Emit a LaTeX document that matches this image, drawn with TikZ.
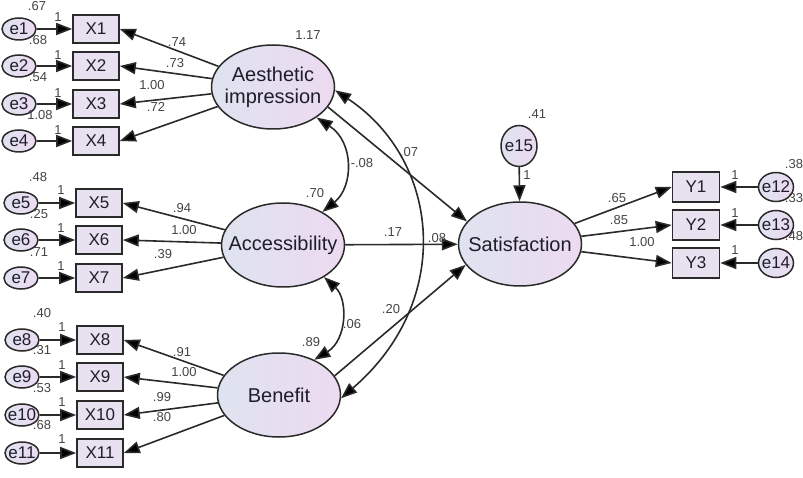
\documentclass[tikz,border=0pt]{standalone}
\usepackage{fontspec}
\setmainfont{Liberation Sans}
\usetikzlibrary{arrows.meta,shapes.geometric}
\definecolor{txt}{HTML}{1E1E2A}
\definecolor{numcol}{HTML}{444444}
\definecolor{edge}{HTML}{2A2A2A}
\definecolor{boxfill}{HTML}{E8E2F0}
\definecolor{shl}{HTML}{DEE3EF}
\definecolor{shr}{HTML}{EDDAF1}
\begin{document}
\begin{tikzpicture}[x=1pt,y=-1pt,
 latent/.style={ellipse,draw=edge,line width=1.5pt,left color=shl,right color=shr,minimum width=123pt,minimum height=84pt,inner xsep=-16pt,inner ysep=0pt,font=\fontsize{20}{22}\selectfont,text=txt,align=center},
 obs/.style={rectangle,draw=edge,line width=1.6pt,fill=boxfill,minimum width=46pt,minimum height=28pt,inner sep=0pt,font=\fontsize{17}{19}\selectfont,text=txt},
 err/.style={ellipse,draw=edge,line width=1.5pt,left color=shl,right color=shr,minimum width=34pt,minimum height=22pt,inner xsep=-3pt,inner ysep=-3pt,font=\fontsize{17}{19}\selectfont,text=txt},
 reg/.style={draw=edge,line width=1.6pt,-{Triangle[length=16pt,width=12pt,fill=black]}},
 cov/.style={draw=edge,line width=1.6pt,{Triangle[length=16pt,width=12pt,fill=black]}-{Triangle[length=16pt,width=12pt,fill=black]}},
 num/.style={font=\fontsize{13}{15}\selectfont,text=numcol,inner sep=0pt}
]
\useasboundingbox (0,0) rectangle (803,478);
% latent variables
\node[latent] (aes) at (273,87) {Aesthetic\\impression};
\node[latent] (acc) at (283,245) {Accessibility};
\node[latent] (ben) at (279,395) {Benefit};
\node[latent] (sat) at (520,244) {Satisfaction};
% indicators left
\node[obs] (X1) at (96,29) {X1};
\node[obs] (X2) at (96,66) {X2};
\node[obs] (X3) at (96,104) {X3};
\node[obs] (X4) at (96,141) {X4};
\node[obs] (X5) at (99,203) {X5};
\node[obs] (X6) at (99,240) {X6};
\node[obs] (X7) at (99,278) {X7};
\node[obs] (X8) at (100,340) {X8};
\node[obs] (X9) at (100,377) {X9};
\node[obs] (X10) at (100,415) {X10};
\node[obs] (X11) at (100,453) {X11};
% errors left
\node[err] (e1) at (19,29) {e1};
\node[err] (e2) at (19,66) {e2};
\node[err] (e3) at (19,104) {e3};
\node[err] (e4) at (19,141) {e4};
\node[err] (e5) at (21,203) {e5};
\node[err] (e6) at (21,240) {e6};
\node[err] (e7) at (21,278) {e7};
\node[err] (e8) at (22,340) {e8};
\node[err] (e9) at (22,377) {e9};
\node[err] (e10) at (22,415) {e10};
\node[err] (e11) at (22,453) {e11};
% right side
\node[obs,minimum width=47pt,minimum height=30pt] (Y1) at (696,187) {Y1};
\node[obs,minimum width=47pt,minimum height=30pt] (Y2) at (696,225) {Y2};
\node[obs,minimum width=47pt,minimum height=30pt] (Y3) at (696,263) {Y3};
\node[err,minimum width=35pt,minimum height=29pt] (e12) at (776,187) {e12};
\node[err,minimum width=35pt,minimum height=29pt] (e13) at (776,225) {e13};
\node[err,minimum width=35pt,minimum height=29pt] (e14) at (776,263) {e14};
\node[err,minimum width=36pt,minimum height=41pt] (e15) at (519,146) {e15};
% error paths
\foreach \i in {1,...,11} \draw[reg] (e\i) -- (X\i);
\draw[reg] (e12) -- (Y1);
\draw[reg] (e13) -- (Y2);
\draw[reg] (e14) -- (Y3);
\draw[reg] (e15) -- (sat);
% loadings
\foreach \i in {1,...,4} \draw[reg] (aes) -- (X\i.east);
\foreach \i in {5,6,7} \draw[reg] (acc) -- (X\i.east);
\foreach \i in {8,...,11} \draw[reg] (ben) -- (X\i.east);
\foreach \i in {1,2,3} \draw[reg] (sat) -- (Y\i.west);
% structural paths
\draw[reg] (aes.-20) -- (sat.157);
\draw[reg] (acc) -- (sat);
\draw[reg] (ben.19) -- (sat.-159);
% covariances
\draw[cov] (aes.-35) .. controls +(38,25) and +(31,-25) .. (acc.40);
\draw[cov] (acc.-38) .. controls +(24,22) and +(33,-20) .. (ben.45);
\draw[cov] (aes.-3) .. controls (440,160) and (455,300) .. (ben.-3);
% labels: variances and weights
\node[num] (v1) at (37,6) {.67};
\node[num] (v2) at (38,40) {.68};
\node[num] (v3) at (38,77) {.54};
\node[num] (v4) at (40,115) {1.08};
\node[num] (f1) at (58,17) {1};
\node[num] (f2) at (58,55) {1};
\node[num] (f3) at (58,93) {1};
\node[num] (f4) at (58,130) {1};
\node[num] (w1) at (177,42) {.74};
\node[num] (w2) at (175,63) {.73};
\node[num] (w3) at (152,85) {1.00};
\node[num] (w4) at (156,107) {.72};
\node[num] (v5) at (38,177) {.48};
\node[num] (v6) at (39,214) {.25};
\node[num] (v7) at (39,252) {.71};
\node[num] (f5) at (61,190) {1};
\node[num] (f6) at (61,228) {1};
\node[num] (f7) at (61,266) {1};
\node[num] (w5) at (182,208) {.94};
\node[num] (w6) at (184,230) {1.00};
\node[num] (w7) at (163,254) {.39};
\node[num] (v8) at (42,313) {.40};
\node[num] (v9) at (42,350) {.31};
\node[num] (v10) at (42,388) {.53};
\node[num] (v11) at (42,425) {.68};
\node[num] (f8) at (62,327) {1};
\node[num] (f9) at (62,365) {1};
\node[num] (f10) at (62,402) {1};
\node[num] (f11) at (62,439) {1};
\node[num] (w8) at (182,352) {.91};
\node[num] (w9) at (184,372) {1.00};
\node[num] (w10) at (162,397) {.99};
\node[num] (w11) at (162,417) {.80};
\node[num] (vaes) at (308,35) {1.17};
\node[num] (c1) at (362,163) {-.08};
\node[num] (vacc) at (315,193) {.70};
\node[num] (c2) at (409,152) {.07};
\node[num] (b1) at (393,232) {.17};
\node[num] (r2) at (437,238) {.08};
\node[num] (b2) at (391,309) {.20};
\node[num] (c3) at (352,324) {.06};
\node[num] (vben) at (311,342) {.89};
\node[num] (v15) at (537,114) {.41};
\node[num] (f15) at (527,175) {1};
\node[num] (w12) at (617,198) {.65};
\node[num] (w13) at (619,220) {.85};
\node[num] (w14) at (642,242) {1.00};
\node[num] (f12) at (735,175) {1};
\node[num] (f13) at (735,213) {1};
\node[num] (f14) at (735,250) {1};
\node[num] (v12) at (794,164) {.38};
\node[num] (v13) at (794,198) {.33};
\node[num] (v14) at (794,236) {.48};
\end{tikzpicture}
\end{document}
